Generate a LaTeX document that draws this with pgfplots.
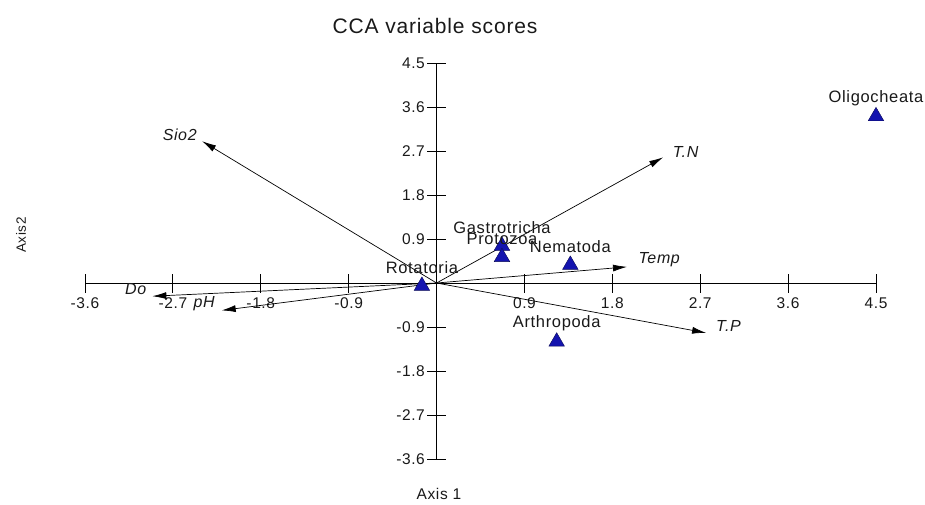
\documentclass[border=0pt]{standalone}
\usepackage{fontspec}
\setmainfont{Liberation Sans}[LetterSpace=4]
\usepackage{pgfplots}
\pgfplotsset{compat=1.18}
\usetikzlibrary{arrows.meta}
\definecolor{tri}{RGB}{20,20,175}
\definecolor{txt}{RGB}{25,25,25}
\newcommand{\fs}[1]{\fontsize{#1}{#1}\selectfont}
\tikzset{
  arr/.style={black, line width=0.7pt, -{Latex[length=14pt,width=7pt]}},
  lab/.style={font=\fs{16}\itshape, text=txt, inner sep=0pt},
}

\pgfplotstableread{
x y label
-0.15 -0.06 Rotatoria
0.67 0.76 Gastrotricha
0.67 0.53 Protozoa
1.37 0.37 Nematoda
1.23 -1.20 Arthropoda
4.50 3.41 Oligocheata
}\species

\begin{document}
\begin{tikzpicture}[x=1pt,y=1pt]
\useasboundingbox (0,0) rectangle (925,504);
\begin{axis}[
  at={(85pt,45pt)}, anchor=south west,
  width=791pt, height=396pt, scale only axis,
  xmin=-3.6, xmax=4.5, ymin=-3.6, ymax=4.5,
  axis lines=middle,
  axis line style={-, line width=0.9pt, black},
  clip=false,
  xtick={-3.6,-2.7,-1.8,-0.9,0.9,1.8,2.7,3.6,4.5},
  xticklabels={-3.6,-2.7,-1.8,-0.9,0.9,1.8,2.7,3.6,4.5},
  ytick={-3.6,-2.7,-1.8,-0.9,0.9,1.8,2.7,3.6,4.5},
  yticklabels={-3.6,-2.7,-1.8,-0.9,0.9,1.8,2.7,3.6,4.5},
  tick align=center, major tick length=19pt,
  tick style={black, line width=0.9pt},
  xticklabel style={font=\fs{15.5}, text=txt, anchor=north, inner sep=0pt, yshift=-5pt},
  yticklabel style={font=\fs{15.5}, text=txt, anchor=east, inner sep=0pt, xshift=-2pt},
]
\addplot[arr] coordinates {(0,0) (2.32,2.57)};
\addplot[arr] coordinates {(0,0) (1.95,0.33)};
\addplot[arr] coordinates {(0,0) (2.76,-1.02)};
\addplot[arr] coordinates {(0,0) (-2.40,2.90)};
\addplot[arr] coordinates {(0,0) (-2.91,-0.27)};
\addplot[arr] coordinates {(0,0) (-2.20,-0.56)};
\node[lab] at (axis cs:2.55,2.68) {T.N};
\node[lab] at (axis cs:2.28,0.47) {Temp};
\node[lab] at (axis cs:2.99,-0.88) {T.P};
\node[lab] at (axis cs:-2.63,3.04) {Sio2};
\node[lab] at (axis cs:-3.08,-0.12) {Do};
\node[lab] at (axis cs:-2.38,-0.43) {pH};
\addplot[only marks, mark=triangle*, mark size=9pt,
  mark options={fill=tri, draw=tri!50!black, line width=0.4pt},
  nodes near coords, point meta=explicit symbolic,
  every node near coord/.append style={anchor=center, yshift=18pt, font=\fs{16.5}, text=txt, inner sep=0pt}]
  table[x=x, y=y, meta=label] {\species};
\end{axis}
\node[font=\fs{21}, text=txt] at (435,478) {CCA variable scores};
\node[font=\fs{15.5}, text=txt] at (439,10) {Axis 1};
\node[font=\fs{13.5}, text=txt, rotate=90] at (21,269) {Axis2};
\end{tikzpicture}
\end{document}
